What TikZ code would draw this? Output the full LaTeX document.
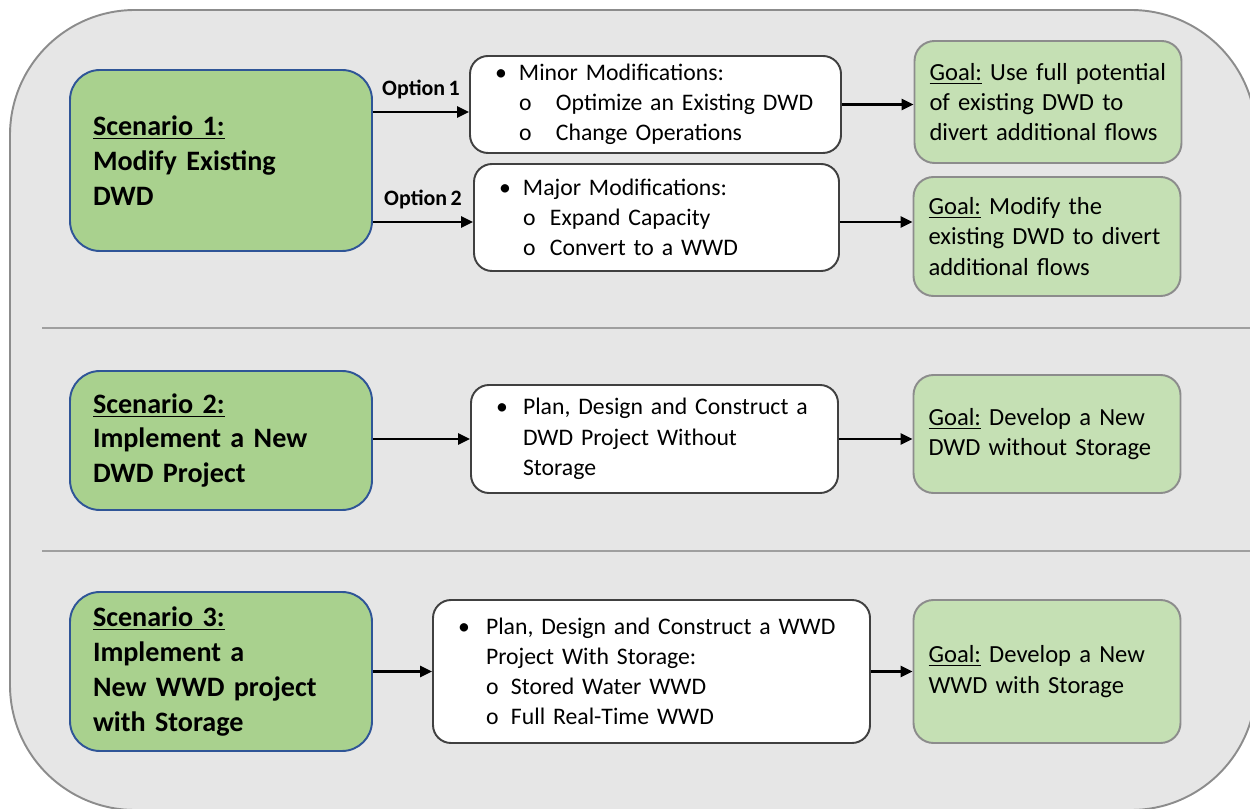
\documentclass[tikz,border=0pt]{standalone}
\usepackage{fontspec}
\setmainfont{Carlito}[WordSpace=0.7]
\usetikzlibrary{arrows.meta,positioning}
\definecolor{scenfill}{HTML}{A9D18E}
\definecolor{scenline}{HTML}{2F5597}
\definecolor{goalfill}{HTML}{C5E0B4}
\definecolor{goalline}{HTML}{8C8C8C}
\definecolor{panel}{HTML}{E6E6E6}
\newcommand{\bl}[2]{\mbox{\makebox[#1][l]{\textbullet}#2}}
\newcommand{\sbl}[3]{\mbox{\hspace*{#1}\makebox[#2][l]{o}#3}}
\newcommand{\ind}[2]{\mbox{\hspace*{#1}#2}}

\begin{document}
\begin{tikzpicture}[>={Triangle[length=2.4mm,width=2.2mm]},
  scen/.style={draw=scenline,line width=1.1pt,fill=scenfill,rounded corners=0.6cm,minimum width=6.04cm,text width=5.12cm,inner xsep=0.46cm,align=left,font=\fontsize{16}{19.8}\selectfont\bfseries},
  lst/.style={draw=black!75,line width=1.1pt,fill=white,rounded corners=0.36cm,inner xsep=0.5cm,align=left,font=\fontsize{13.5}{17.2}\selectfont},
  goal/.style={draw=goalline,line width=1.1pt,fill=goalfill,rounded corners=0.4cm,minimum width=5.34cm,text width=4.74cm,inner xsep=0.3cm,align=left,font=\fontsize{14}{17.2}\selectfont},
  arr/.style={->,line width=1.5pt},
  optlab/.style={font=\fontsize{12.5}{14}\selectfont\bfseries}]
\useasboundingbox (0,0) rectangle (25,16.16);
\draw[goalline,line width=1.1pt,fill=panel,rounded corners=2.5cm] (0.2,-0.04) rectangle (25.12,15.96);
\draw[gray!75,line width=0.6pt] (0.84,9.6) -- (25,9.6);
\draw[gray!75,line width=0.6pt] (0.84,5.14) -- (25,5.14);

% scenario 1
\node[scen,minimum height=3.62cm] (s1) at (4.42,12.95)
  {\underline{Scenario 1:}\\Modify Existing\\DWD};
\node[lst,minimum width=7.42cm,text width=6.42cm,minimum height=1.94cm] (opt1) at (13.11,14.07)
  {\bl{0.48cm}{Minor Modifications:}\\
   \sbl{0.48cm}{0.74cm}{Optimize an Existing DWD}\\
   \sbl{0.48cm}{0.74cm}{Change Operations}};
\node[lst,minimum width=7.30cm,text width=6.30cm,minimum height=2.14cm] (opt2) at (13.13,11.81)
  {\bl{0.48cm}{Major Modifications:}\\
   \sbl{0.48cm}{0.54cm}{Expand Capacity}\\
   \sbl{0.48cm}{0.54cm}{Convert to a WWD}};
\node[goal,minimum height=2.44cm] (goal1) at (20.96,14.12)
  {\underline{Goal:} Use full potential\\of existing DWD to\\divert additional flows};
\node[goal,minimum height=2.38cm] (goal2) at (20.94,11.43)
  {\underline{Goal:} Modify the\\existing DWD to divert\\additional flows};
\coordinate (in1) at ([yshift=-1.5mm]opt1.west);
\coordinate (in2) at ([yshift=-0.9mm]opt2.west);
\coordinate (out2) at ([yshift=-0.9mm]opt2.east);
\draw[arr] (s1.east |- in1) -- node[midway,above=0.12cm,optlab]{Option 1} (in1);
\draw[arr] (s1.east |- in2) -- node[midway,above=0.12cm,optlab]{Option 2} (in2);
\draw[arr] (opt1.east) -- (opt1.east -| goal1.west);
\draw[arr] (out2) -- (out2 -| goal2.west);

% scenario 2
\node[scen,minimum height=2.78cm] (s2) at (4.42,7.35)
  {\underline{Scenario 2:}\\Implement a New\\DWD Project};
\node[lst,minimum width=7.34cm,text width=6.34cm,minimum height=2.16cm] (plan2) at (13.09,7.38)
  {\bl{0.54cm}{Plan, Design and Construct a}\\
   \ind{0.54cm}{DWD Project Without}\\
   \ind{0.54cm}{Storage}};
\node[goal,minimum height=2.36cm] (goal3) at (20.94,7.48)
  {\underline{Goal:} Develop a New\\DWD without Storage};
\draw[arr] (s2.east |- plan2.west) -- (plan2.west);
\draw[arr] (plan2.east) -- (plan2.east -| goal3.west);

% scenario 3
\node[scen,minimum height=3.18cm] (s3) at (4.42,2.73)
  {\underline{Scenario 3:}\\Implement a\\New WWD project\\with Storage};
\node[lst,minimum width=8.74cm,text width=7.74cm,minimum height=2.86cm] (plan3) at (13.03,2.73)
  {\bl{0.56cm}{Plan, Design and Construct a WWD}\\
   \ind{0.56cm}{Project With Storage:}\\
   \sbl{0.56cm}{0.5cm}{Stored Water WWD}\\
   \sbl{0.56cm}{0.5cm}{Full Real-Time WWD}};
\node[goal,minimum height=2.86cm] (goal4) at (20.94,2.73)
  {\underline{Goal:} Develop a New\\WWD with Storage};
\draw[arr] (s3.east) -- (plan3.west);
\draw[arr] (plan3.east) -- (goal4.west);
\end{tikzpicture}
\end{document}
